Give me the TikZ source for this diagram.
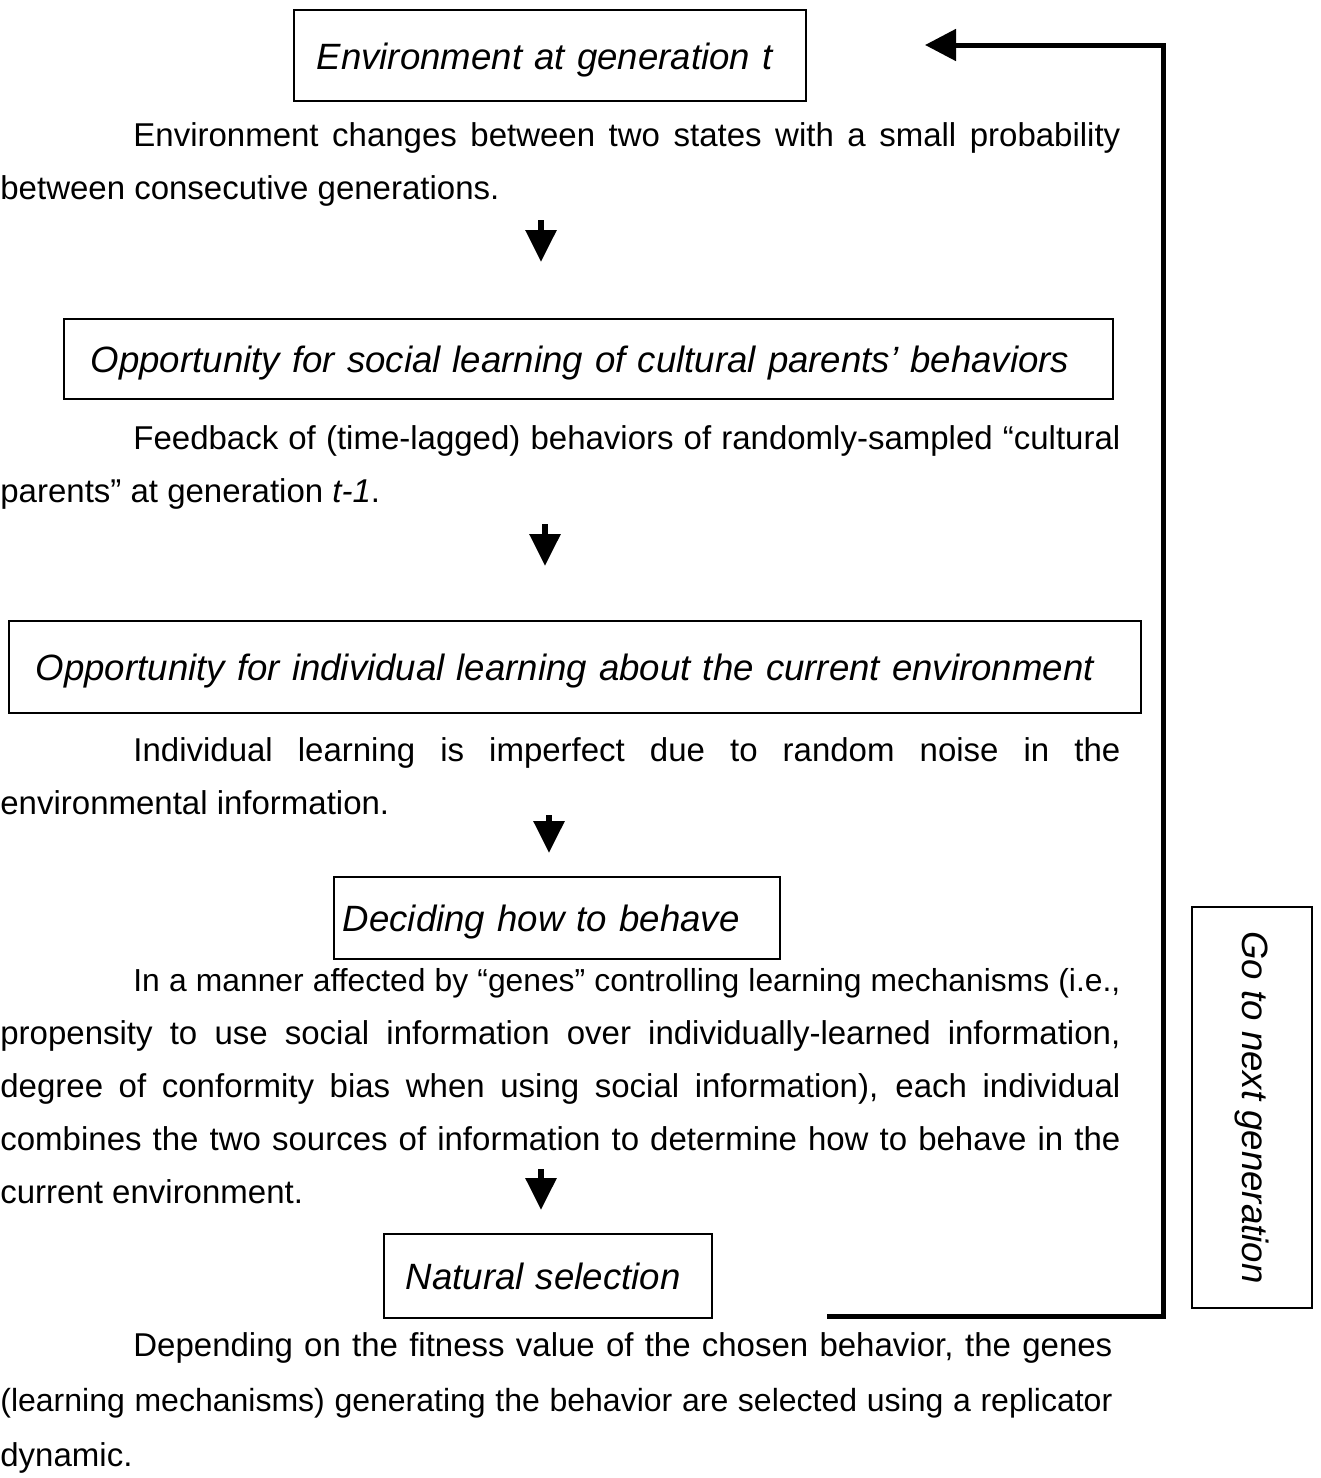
\documentclass[tikz,border=0pt]{standalone}
\usepackage{fontspec}
\setmainfont{Liberation Sans}
\usetikzlibrary{arrows.meta}

\tikzset{
    stage/.style={draw=black, line width=0.8pt, anchor=north west, align=left,
        inner ysep=0pt, text height=14pt, text depth=0pt,
        font=\fontsize{18.3}{22}\selectfont\itshape},
    body/.style={anchor=north west, inner sep=0pt, text width=560pt, align=justify,
        font=\fontsize{16.5}{26.5}\selectfont},
    downarrow/.style={line width=3pt, -{Triangle[length=16pt,width=15pt]}},
    backline/.style={line width=2.5pt, -{Triangle[length=15.5pt,width=15.5pt]}},
}
\newcommand{\ind}{\strut\hspace*{66.5pt}}

\begin{document}
\begin{tikzpicture}[x=0.5pt,y=-0.5pt]
    \useasboundingbox (0,0) rectangle (1321,1478);

    % stages of one generation
    \draw (293,9) node[stage, minimum height=45.5pt, inner xsep=11.5pt, text width=233pt] (envbox) {Environment at generation t};
    \draw (0,109) node[body] (envtext) {\ind Environment changes between two states with a small probability\linebreak between consecutive generations.};

    \draw (63,318) node[stage, minimum height=40pt, inner xsep=13.5pt, text width=497.5pt] (socialbox) {Opportunity for social learning of cultural parents’ behaviors};
    \draw (0,412) node[body] (socialtext) {\ind Feedback of (time-lagged) behaviors of randomly-sampled “cultural\linebreak parents” at generation \textit{t-1}.};

    \draw (8,620) node[stage, minimum height=46pt, inner xsep=13.5pt, text width=539pt] (indivbox) {Opportunity for individual learning about the current environment};
    \draw (0,724) node[body] (indivtext) {\ind Individual learning is imperfect due to random noise in the\linebreak environmental information.};

    \draw (333,876) node[stage, minimum height=41pt, inner xsep=4.5pt, text width=214pt] (decidebox) {Deciding how to behave};
    % first line is a little long, so it is set slightly smaller
    \draw (0,954) node[body] (decidetext) {\ind {\fontsize{15.9}{26.5}\selectfont In a manner affected by “genes” controlling learning mechanisms (i.e.,}\linebreak
        propensity to use social information over individually-learned information,\linebreak
        degree of conformity bias when using social information), each individual\linebreak
        combines the two sources of information to determine how to behave in the\linebreak
        current environment.};

    \draw (383,1233) node[stage, minimum height=42pt, inner xsep=11pt, text width=142pt] (selectbox) {Natural selection};
    \draw (0,1318) node[body, text width=556pt, font=\fontsize{16.5}{27.5}\selectfont] (selecttext) {\ind Depending on the fitness value of the chosen behavior, the genes\linebreak
        {\fontsize{16}{27.5}\selectfont (learning mechanisms) generating the behavior are selected using a replicator}\linebreak
        dynamic.};

    \draw (1252,1107.5) node[draw=black, line width=0.8pt, rotate=-90, minimum width=200.5pt, minimum height=60pt,
        font=\fontsize{18.3}{22}\selectfont\itshape] (nextbox) {Go to next generation};

    % arrows between the stages
    \coordinate (a1) at (541,220);
    \coordinate (b1) at (541,262);
    \coordinate (a2) at (545,524);
    \coordinate (b2) at (545,566);
    \coordinate (a3) at (549,815);
    \coordinate (b3) at (549,853);
    \coordinate (a4) at (541,1169);
    \coordinate (b4) at (541,1210);
    \draw[downarrow] (a1) -- (b1);
    \draw[downarrow] (a2) -- (b2);
    \draw[downarrow] (a3) -- (b3);
    \draw[downarrow] (a4) -- (b4);

    % back to the first stage
    \coordinate (backout) at (827,1316);
    \coordinate (backcorner) at (1163,45);
    \coordinate (backin) at (925,45);
    \draw[backline] (backout) -| (backcorner) -- (backin);

\end{tikzpicture}
\end{document}
